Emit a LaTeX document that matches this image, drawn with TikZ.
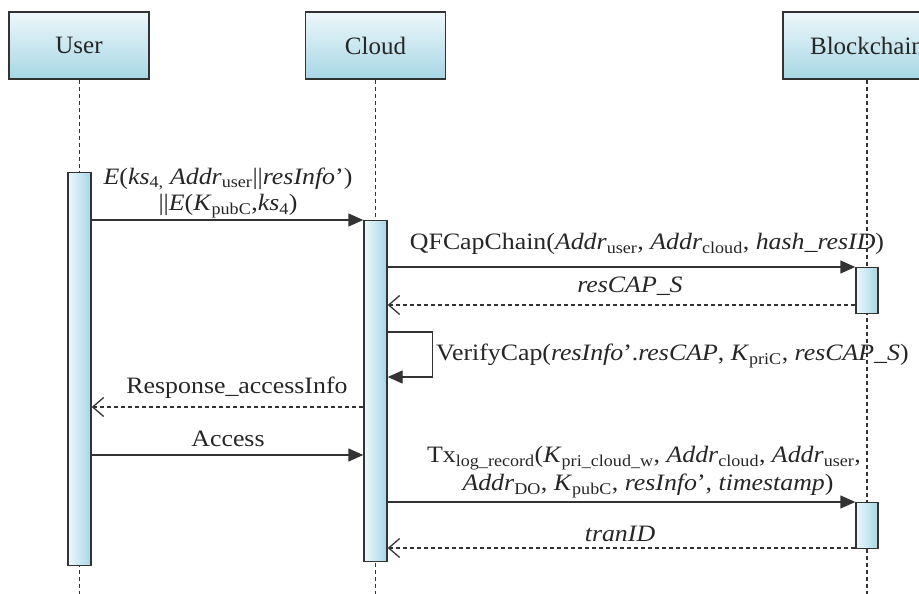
\documentclass[tikz,border=0pt]{standalone}
\usepackage{fontspec}
\setmainfont{Liberation Serif}
\newfontfamily\lblfont{Liberation Serif}[FakeStretch=1.1]
\usetikzlibrary{arrows.meta}
\definecolor{lc}{HTML}{333333}
\definecolor{bluedark}{HTML}{A6D6E4}
\definecolor{bluelight}{HTML}{EEF8FB}
\newcommand{\sbs}[1]{\textsubscript{#1}}
\tikzset{
 head/.style={draw=lc, line width=1.4pt, minimum width=140pt, minimum height=67pt,
   top color=bluelight, bottom color=bluedark, inner sep=0pt,
   font=\fontsize{25}{28}\selectfont, text=black!85},
 actbar/.style={draw=lc, line width=1.4pt, minimum width=23pt, left color=bluelight,
   right color=bluedark, inner sep=0pt, anchor=north},
 life/.style={draw=lc, line width=1.4pt, dash pattern=on 4pt off 3pt},
 msg/.style={draw=lc, line width=1.4pt, -{Triangle[length=15pt,width=13pt]}},
 ret/.style={draw=lc, line width=1.3pt, dash pattern=on 4pt off 3pt,
   -{Straight Barb[length=11pt,width=19pt,line width=1.3pt]}},
 lbl/.style={font=\lblfont\fontsize{23.5}{27}\selectfont, inner sep=0pt, text=black!85},
}
\begin{document}
\begin{tikzpicture}[x=1pt,y=-1pt]
\useasboundingbox (0,0) rectangle (919,594);
\clip (0,0) rectangle (919,594);
% headers
\node[head] (user)  at (79,45.5)  {User};
\node[head] (cloud) at (375.5,45.5) {Cloud};
\node[head, minimum width=168pt] (chain) at (867,45.5) {Blockchain};
% lifeline ends
\coordinate (ue) at (79.5,594);
\coordinate (ce) at (375.5,594);
\coordinate (be) at (867,594);
\draw[life] (user.south -| ue) -- (ue);
\draw[life] (cloud.south -| ce) -- (ce);
\draw[life] (chain.south -| be) -- (be);
% activation bars
\node[actbar, minimum height=393pt] (ubar) at (79.5,172) {};
\node[actbar, minimum height=341pt] (cbar) at (375.5,220) {};
\node[actbar, minimum width=22pt, minimum height=46pt] (bbar1) at (867,267) {};
\node[actbar, minimum width=22pt, minimum height=46pt] (bbar2) at (867,502) {};
% message rows
\coordinate (y1) at (0,220);
\coordinate (y2) at (0,267);
\coordinate (y3) at (0,305);
\coordinate (y4a) at (0,332);
\coordinate (y4b) at (0,377);
\coordinate (y5) at (0,407);
\coordinate (y6) at (0,455);
\coordinate (y7) at (0,502);
\coordinate (y8) at (0,548);
% messages
\draw[msg] (ubar.east |- y1) -- (cbar.west |- y1);
\draw[msg] (cbar.east |- y2) -- (bbar1.west |- y2);
\draw[ret] (bbar1.west |- y3) -- (cbar.east |- y3);
\draw[msg] (cbar.east |- y4a) -- ++(45,0) |- (cbar.east |- y4b);
\draw[ret] (cbar.west |- y5) -- (ubar.east |- y5);
\draw[msg] (ubar.east |- y6) -- (cbar.west |- y6);
\draw[msg] (cbar.east |- y7) -- (bbar2.west |- y7);
\draw[ret] (bbar2.west |- y8) -- (cbar.east |- y8);
% labels
\node[lbl] (l1a) at (228,179) {\textit{E}(\textit{ks}\sbs{4,} \textit{Addr}\sbs{user}||\textit{resInfo}’)};
\node[lbl] (l1b) at (228,206) {||\textit{E}(\textit{K}\sbs{pubC},\textit{ks}\sbs{4})};
\node[lbl] (l2) at (647,244) {QFCapChain(\textit{Addr}\sbs{user}, \textit{Addr}\sbs{cloud}, \textit{hash\_resID})};
\node[lbl] (l3) at (630,286) {\textit{resCAP\_S}};
\node[lbl, anchor=west] (l4) at (436,356) {VerifyCap(\textit{resInfo}’.\textit{resCAP}, \textit{K}\sbs{priC}, \textit{resCAP\_S})};
\node[lbl] (l5) at (237,388) {Response\_accessInfo};
\node[lbl] (l6) at (228,439) {Access};
\node[lbl] (l7a) at (644,458) {Tx\sbs{log\_record}(\textit{K}\sbs{pri\_cloud\_w}, \textit{Addr}\sbs{cloud}, \textit{Addr}\sbs{user},};
\node[lbl] (l7b) at (648,486) {\textit{Addr}\sbs{DO}, \textit{K}\sbs{pubC}, \textit{resInfo}’, \textit{timestamp})};
\node[lbl] (l8) at (620,534) {\textit{tranID}};
\end{tikzpicture}
\end{document}
